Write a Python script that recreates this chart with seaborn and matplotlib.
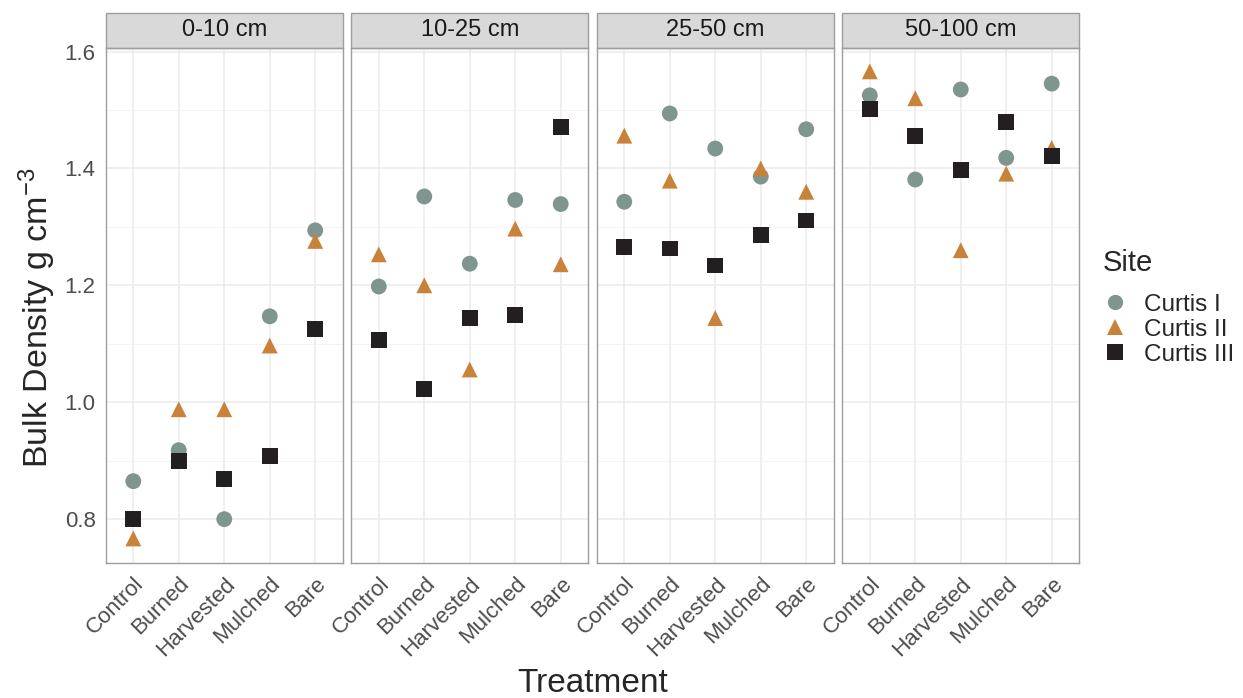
import matplotlib.pyplot as plt
import matplotlib.patches as mpatches
from matplotlib.lines import Line2D
from matplotlib.ticker import MultipleLocator
import numpy as np
import pandas as pd
import seaborn as sns

# data
treatments = ["Control", "Burned", "Harvested", "Mulched", "Bare"]
depths = ["0-10 cm", "10-25 cm", "25-50 cm", "50-100 cm"]
sites = ["Curtis I", "Curtis II", "Curtis III"]

curtis_1 = {
    "0-10 cm": [0.865, 0.918, 0.800, 1.147, 1.294],
    "10-25 cm": [1.198, 1.352, 1.237, 1.346, 1.339],
    "25-50 cm": [1.343, 1.494, 1.434, 1.386, 1.467],
    "50-100 cm": [1.525, 1.381, 1.535, 1.418, 1.545],
}
curtis_2 = {
    "0-10 cm": [0.767, 0.988, 0.988, 1.097, 1.276],
    "10-25 cm": [1.253, 1.200, 1.056, 1.297, 1.236],
    "25-50 cm": [1.456, 1.379, 1.144, 1.400, 1.360],
    "50-100 cm": [1.566, 1.520, 1.260, 1.391, 1.435],
}
curtis_3 = {
    "0-10 cm": [0.800, 0.900, 0.869, 0.908, 1.125],
    "10-25 cm": [1.107, 1.022, 1.144, 1.149, 1.471],
    "25-50 cm": [1.265, 1.263, 1.234, 1.286, 1.311],
    "50-100 cm": [1.502, 1.455, 1.397, 1.479, 1.421],
}

site_values = dict(zip(sites, [curtis_1, curtis_2, curtis_3]))
site_colors = dict(zip(sites, ["#7f958f", "#c8823a", "#231f20"]))
site_markers = dict(zip(sites, ["o", "^", "s"]))

rows = []
for depth in depths:
    for i, treat in enumerate(treatments):
        for site in sites:
            rows.append({
                "Depth": depth,
                "Treatment": treat,
                "Site": site,
                "Density": site_values[site][depth][i],
            })
df = pd.DataFrame(rows)

sns.set_style("white")
plt.rcParams["font.family"] = ["Liberation Sans", "DejaVu Sans"]
plt.rcParams["mathtext.default"] = "regular"

fig, axes = plt.subplots(1, 4, figsize=(12.43, 6.98), dpi=100, sharey=True)
fig.subplots_adjust(left=106 / 1243, right=1079 / 1243,
                    top=1 - 48 / 698, bottom=1 - 563 / 698, wspace=0.038)

for ax, depth in zip(axes, depths):
    sub = df[df["Depth"] == depth]
    sns.scatterplot(
        data=sub,
        x="Treatment",
        y="Density",
        hue="Site",
        style="Site",
        hue_order=sites,
        style_order=sites,
        palette=site_colors,
        markers=site_markers,
        s=130,
        linewidth=0,
        legend=False,
        zorder=3,
        ax=ax,
    )
    ax.set_xlim(-0.6, 4.6)
    ax.set_ylim(0.725, 1.606)
    ax.yaxis.set_major_locator(MultipleLocator(0.2))
    ax.yaxis.set_minor_locator(MultipleLocator(0.1))
    ax.grid(which="major", color="#ebebeb", linewidth=1.1, zorder=0)
    ax.grid(which="minor", axis="y", color="#f2f2f2", linewidth=0.6, zorder=0)
    ax.set_axisbelow(True)
    for sp in ax.spines.values():
        sp.set_color("#9e9e9e")
        sp.set_linewidth(1.0)
    ax.set_xlabel("")
    ax.set_ylabel("")
    ax.tick_params(axis="both", which="major", length=4, color="#555555",
                   labelsize=16, labelcolor="#4d4d4d", direction="out")
    ax.tick_params(axis="y", which="minor", length=0)
    ax.set_xticks(range(len(treatments)))
    ax.set_xticklabels(treatments, rotation=45, ha="right", va="top",
                       rotation_mode="anchor")
    # facet strip
    strip_h = 35 / 515
    ax.add_patch(mpatches.Rectangle(
        (0, 1), 1, strip_h, transform=ax.transAxes, clip_on=False,
        facecolor="#d9d9d9", edgecolor="#9e9e9e", linewidth=1.0))
    ax.text(0.5, 1 + strip_h / 2, depth, transform=ax.transAxes,
            ha="center", va="center", fontsize=17, color="#1a1a1a")

axes[0].set_yticklabels([f"{v:.1f}" for v in axes[0].get_yticks()])
for ax in axes[1:]:
    ax.tick_params(axis="y", length=0)

fig.text(37 / 1243, 1 - 318 / 698,
         "Bulk Density g cm$^{-3}$", rotation=90, ha="center",
         va="center", fontsize=24.5)
fig.text((106 + 1079) / 2 / 1243, 1 - 684 / 698, "Treatment", ha="center",
         va="center", fontsize=24)

handles = [Line2D([], [], linestyle="", marker=site_markers[s],
                  markerfacecolor=site_colors[s], markeredgewidth=0,
                  markersize=11, label=s) for s in sites]
leg = fig.legend(handles=handles, title="Site", loc="upper left",
                 bbox_to_anchor=(1103 / 1243, 1 - 249 / 698), frameon=False,
                 fontsize=17.5, title_fontsize=21, handletextpad=0.7,
                 labelspacing=0.12, borderaxespad=0, borderpad=0,
                 handlelength=1.0)
leg._legend_box.align = "left"
leg._legend_box.sep = 12

fig.savefig("out.png", dpi=100)
